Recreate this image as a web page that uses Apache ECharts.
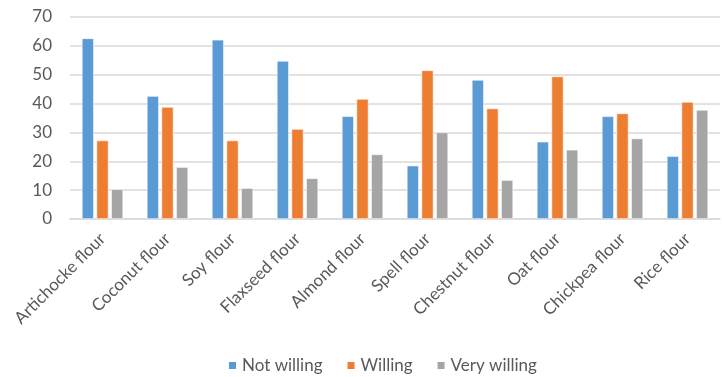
<!DOCTYPE html>
<html>
<head>
<meta charset="utf-8">
<script src="https://cdn.jsdelivr.net/npm/echarts@6/dist/echarts.min.js"></script>
<style>
  html, body { margin: 0; padding: 0; background: #fff; }
  #chart { width: 722px; height: 377px; }
</style>
</head>
<body>
<div id="chart"></div>
<script>
// Flour types surveyed
const categories = ['Artichocke flour', 'Coconut flour', 'Soy flour', 'Flaxseed flour', 'Almond flour',
                    'Spell flour', 'Chestnut flour', 'Oat flour', 'Chickpea flour', 'Rice flour'];
// Share of respondents per willingness level
const notWilling  = [62.6, 42.6, 62.1, 54.8, 35.6, 18.5, 48.2, 26.8, 35.6, 21.8];
const willing     = [27.2, 38.8, 27.2, 31.2, 41.6, 51.5, 38.3, 49.4, 36.6, 40.6];
const veryWilling = [10.3, 18.0, 10.7, 14.1, 22.4, 30.0, 13.5, 24.0, 27.9, 37.8];
const yTicks = { min: 0, max: 70, interval: 10 };

const font = 'Lato';
const textColor = '#595959';

const barStyle = (color) => ({ color: color, borderColor: '#ffffff', borderWidth: 0.6 });

const chart = echarts.init(document.getElementById('chart'), null, { renderer: 'canvas' });
chart.setOption({
  animation: false,
  textStyle: { fontFamily: font },
  grid: { left: 70, right: 2, top: 17, bottom: 158, containLabel: false },
  legend: {
    top: 352,
    left: 222,
    itemWidth: 9,
    itemHeight: 9,
    itemGap: 23,
    icon: 'rect',
    textStyle: { color: textColor, fontSize: 17, fontFamily: font },
    data: ['Not willing', 'Willing', 'Very willing']
  },
  xAxis: {
    type: 'category',
    data: categories,
    axisLine: { show: true, lineStyle: { color: '#d9d9d9', width: 1.5 } },
    axisTick: { show: false },
    axisLabel: { rotate: 45, color: textColor, fontSize: 17, margin: 17, interval: 0, fontFamily: font }
  },
  yAxis: {
    type: 'value',
    min: yTicks.min,
    max: yTicks.max,
    interval: yTicks.interval,
    axisLine: { show: false },
    axisTick: { show: false },
    axisLabel: { color: textColor, fontSize: 17, margin: 18, fontFamily: font },
    splitLine: { lineStyle: { color: '#d9d9d9', width: 1.5 } }
  },
  series: [
    { name: 'Not willing', type: 'bar', data: notWilling, barWidth: 12, barGap: '22%', itemStyle: barStyle('#5B9BD5') },
    { name: 'Willing', type: 'bar', data: willing, barWidth: 12, barGap: '22%', itemStyle: barStyle('#ED7D31') },
    { name: 'Very willing', type: 'bar', data: veryWilling, barWidth: 12, barGap: '22%', itemStyle: barStyle('#A5A5A5') }
  ]
});
</script>
</body>
</html>
